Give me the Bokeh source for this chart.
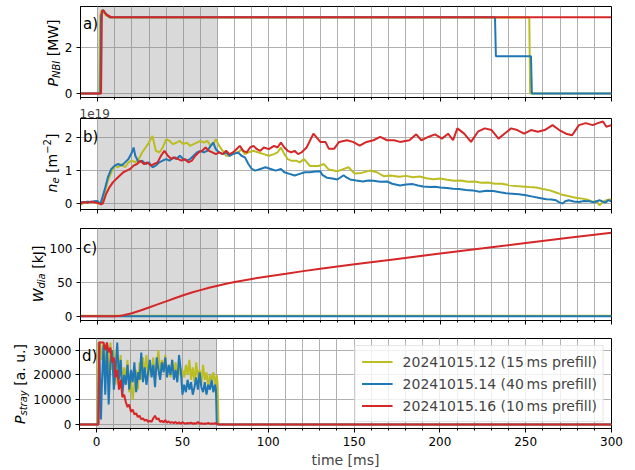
from bokeh.plotting import figure
from bokeh.models import Range1d, FixedTicker, Label, BoxAnnotation, Title, CustomLabelingPolicy, Div
from bokeh.layouts import column, row
from bokeh.embed import file_html
from bokeh.resources import INLINE

# ---------------- data ----------------
C_OLIVE = "#bcbd22"
C_BLUE = "#1f77b4"
C_RED = "#d62728"

series_names = ["20241015.12 (15\u2009ms prefill)",
                "20241015.14 (40\u2009ms prefill)",
                "20241015.16 (10\u2009ms prefill)"]

# a) NBI power [MW]
pnbi_t_olive = [-10, 1.0, 1.5, 2.5, 3.5, 5, 7, 252, 252.5, 300]
pnbi_v_olive = [0, 0, 3.4, 3.65, 3.55, 3.4, 3.32, 3.32, 0, 0]
pnbi_t_blue = [-10, 1.5, 2.0, 3.0, 4.5, 7, 232, 232.5, 253, 253.5, 300]
pnbi_v_blue = [0, 0, 3.4, 3.65, 3.5, 3.33, 3.33, 1.62, 1.62, 0, 0]
pnbi_t_red = [-10, 2.0, 2.5, 3.5, 5, 8, 300]
pnbi_v_red = [0, 0, 3.6, 3.62, 3.45, 3.33, 3.33]

# b) line density [1e19 m^-2]
ne_t_olive = [-10, -8, -6, -4, -2, 0, 2, 4, 6, 8, 10, 12, 14, 16, 18, 20, 22, 24, 26, 28,
              30, 32, 34, 36, 38, 40, 42, 44, 46, 48, 50, 52, 54, 56, 58, 60, 62, 64, 66, 68,
              69, 71, 73, 75, 77, 79, 82, 84, 86, 88, 91, 94, 97, 100, 103, 105, 107, 109, 111, 113,
              116, 118, 120.5, 124, 129, 132, 135, 140, 142.6, 146.5, 150, 154, 159, 163, 167, 171,
              176, 180, 184, 188, 192, 196, 200, 204, 208, 212, 216, 220, 224, 228, 232, 236, 240,
              244, 248, 252, 256, 260, 264, 268, 271, 274, 277, 280, 283, 286, 289, 291, 293, 295,
              297, 300]
ne_v_olive = [-0.04, 0.02, 0.05, 0.03, 0.06, 0.0, 0.02, 0.3, 0.7, 0.95, 1.15, 1.1, 1.2, 1.1, 1.25,
              1.3, 1.25, 1.35, 1.55, 1.7, 1.85, 2.05, 1.6, 1.55, 1.7, 1.95, 1.9, 1.8, 1.85, 1.9,
              1.8, 1.85, 1.75, 1.8, 1.85, 1.9, 1.85, 1.9, 1.75, 1.85, 1.95, 1.75, 1.6, 1.45, 1.45,
              1.55, 1.55, 1.65, 1.5, 1.55, 1.6, 1.55, 1.5, 1.45, 1.5, 1.55, 1.7, 1.5, 1.35, 1.3,
              1.3, 1.25, 1.35, 1.14, 1.14, 1.2, 1.03, 0.98, 1.03, 1.1, 0.91, 0.93, 1.0, 0.95, 0.83,
              0.85, 0.81, 0.84, 0.8, 0.82, 0.77, 0.74, 0.76, 0.72, 0.69, 0.7, 0.66, 0.67, 0.63, 0.64,
              0.6, 0.6, 0.56, 0.53, 0.52, 0.5, 0.49, 0.44, 0.4, 0.33, 0.27, 0.24, 0.2, 0.17, 0.15,
              0.12, 0.05, 0.08, -0.05, 0.05, 0.1, 0.13]
ne_t_blue = [-10, -8, -6, -4, -2, 0, 1, 2, 4, 6, 8, 10, 12, 14, 16, 18, 20, 21, 22, 24, 26, 28,
             30, 32, 34, 36, 38, 40, 42, 44, 46, 48, 50, 52, 54, 56, 58, 60, 62, 64, 66, 67.5, 69,
             71, 73, 75, 77, 79, 82, 84, 86, 88, 90, 92, 95, 98, 101, 104, 107, 109, 112, 115, 118,
             121, 124, 127, 130, 131, 134, 137, 140, 143.6, 145, 147.4, 151, 155, 158, 161, 165,
             169, 172, 176.5, 180, 184, 187, 190, 194, 197, 200, 204, 207.5, 211, 215, 219, 223,
             227, 231, 235, 238.5, 242, 246, 250, 254, 258, 262, 265, 267.6, 269, 271.5, 273, 275,
             278, 281, 284, 287, 290, 293, 295, 296.6, 298, 300]
ne_v_blue = [0.05, 0.03, 0.06, 0.04, 0.07, 0.08, 0.0, 0.05, 0.4, 0.8, 1.05, 1.15, 1.2, 1.15, 1.25,
             1.35, 1.55, 1.7, 1.45, 1.25, 1.3, 1.2, 1.25, 1.1, 1.15, 1.25, 1.3, 1.35, 1.3, 1.4,
             1.35, 1.45, 1.35, 1.3, 1.35, 1.45, 1.55, 1.6, 1.55, 1.6, 1.75, 1.85, 1.65, 1.55, 1.5,
             1.55, 1.45, 1.5, 1.55, 1.45, 1.4, 1.2, 1.05, 1.0, 1.05, 1.1, 1.05, 1.0, 1.05, 0.95,
             0.9, 0.85, 0.9, 0.95, 0.95, 0.97, 0.98, 0.88, 0.78, 0.76, 0.73, 0.86, 0.8, 0.73, 0.7,
             0.67, 0.7, 0.69, 0.66, 0.67, 0.6, 0.55, 0.58, 0.59, 0.55, 0.52, 0.5, 0.51, 0.49, 0.47,
             0.45, 0.44, 0.41, 0.4, 0.36, 0.39, 0.38, 0.34, 0.31, 0.3, 0.28, 0.25, 0.21, 0.17, 0.13,
             0.12, 0.1, 0.05, 0.0, 0.07, 0.1, 0.06, 0.05, 0.08, 0.07, 0.04, 0.1, 0.06, 0.03, 0.1,
             0.07]
ne_t_red = [-10, -8, -6, -4, -2, 0, 2, 3, 5, 7, 9, 11, 13, 15, 17, 19, 21, 23, 25, 27, 29, 31,
            33, 35, 37, 39, 41, 43, 45, 47, 49, 51, 53, 55, 57, 59, 61, 63, 65, 67, 69, 71, 73,
            75, 77, 79, 81, 83, 85, 87, 89, 91, 93, 95, 97, 100, 103, 105, 107, 109, 111, 113, 115,
            117, 119, 122, 126, 130, 133, 135, 138, 141, 145.5, 149, 153, 157, 161, 165, 169, 173,
            176.5, 182, 186, 189, 193, 197, 201, 204.6, 207.5, 210, 214, 218, 222, 226, 230, 234,
            237.5, 241.4, 245, 249, 253, 257, 261, 265.6, 269.5, 273.4, 277, 281, 285, 289, 292,
            295, 297, 300]
ne_v_red = [0.0, 0.05, 0.02, 0.06, 0.04, 0.02, -0.02, 0.0, 0.3, 0.5, 0.65, 0.75, 0.85, 0.95,
            1.0, 1.05, 1.15, 1.2, 1.3, 1.2, 1.25, 1.15, 1.2, 1.25, 1.45, 1.6, 1.45, 1.35, 1.4,
            1.35, 1.3, 1.35, 1.25, 1.3, 1.45, 1.55, 1.6, 1.7, 1.6, 1.55, 1.5, 1.55, 1.5, 1.6, 1.5,
            1.55, 1.65, 1.75, 1.6, 1.55, 1.7, 1.75, 1.65, 1.6, 1.7, 1.65, 1.75, 1.7, 1.85, 1.7,
            1.6, 1.55, 1.6, 1.5, 1.55, 1.7, 2.12, 1.87, 1.87, 1.66, 1.66, 1.87, 1.92, 1.87, 1.76,
            1.87, 1.92, 2.02, 1.92, 1.92, 1.87, 1.92, 2.1, 1.92, 2.02, 2.1, 1.97, 2.12, 1.92, 2.28,
            2.12, 1.87, 2.18, 2.28, 2.23, 1.97, 2.12, 2.28, 2.23, 2.12, 2.23, 2.18, 2.23, 2.38,
            2.23, 2.12, 2.07, 2.38, 2.44, 2.38, 2.44, 2.49, 2.33, 2.38]

# c) diamagnetic energy [kJ]
wdia_t_olive = [-10, 300]
wdia_v_olive = [0.8, 0.8]
wdia_t_blue = [-10, 300]
wdia_v_blue = [0.0, 0.0]
wdia_t_red = [-10, 10, 12, 15, 20, 25, 30, 35, 40, 45, 50, 55, 60, 65, 70, 75, 80, 90, 100,
              110, 120, 130, 150, 175, 200, 225, 250, 275, 300]
wdia_v_red = [0, 0, 0.3, 1.5, 4.5, 8.5, 13, 17.5, 22, 26.5, 31, 35, 38.5, 42, 45, 48, 50.5,
              55, 59, 62.7, 66.5, 70, 76.5, 84.5, 92.5, 100, 108, 115.5, 123]

# d) stray radiation [a. u.]
ps_t_olive = [-10, 0.5] + list(range(1, 71)) + [70.5, 71, 300]
ps_v_olive = [0, 0,
              33000, 33000, 26000, 33000, 20000, 31000, 17000, 33000, 22000, 30000,
              16000, 26000, 20000, 28000, 15000, 23000, 19000, 26000, 13000, 18000,
              10000, 16000, 22000, 14000, 25000, 18000, 27000, 20000, 28000, 19000,
              24000, 21000, 27000, 18000, 24000, 30000, 20000, 26000, 22000, 28000,
              20000, 24000, 19000, 26000, 21000, 25000, 18000, 23000, 20000, 22000,
              19000, 24000, 20000, 26000, 18000, 23000, 17000, 25000, 19000, 22000,
              16000, 24000, 18000, 21000, 15000, 20000, 18000, 21000, 16000, 20000,
              16000, 0, 0]
ps_t_blue = [-10, 1.0, 1.5, 2.5] + list(range(3, 70)) + [69.5, 70, 300]
ps_v_blue = [0, 0, 33000, 2000,
             15000, 32000, 12000, 33000, 8000, 25000, 30000, 14000, 22000, 33000,
             18000, 26000, 12000, 20000, 16000, 24000, 14000, 22000, 17000, 25000,
             13000, 21000, 18000, 29000, 17000, 23000, 16000, 21000, 26000, 19000,
             24000, 15000, 27000, 22000, 18000, 25000, 21000, 27000, 19000, 24000,
             20000, 26000, 18000, 22000, 17000, 28000, 22000, 12000, 16000, 13000,
             18000, 14000, 17000, 12000, 15000, 19000, 14000, 21000, 15000, 13000,
             17000, 12000, 16000, 14000, 18000, 13000, 16000,
             14000, 0, 0]
ps_t_red = [-10, 1.0, 1.5] + list(range(2, 71)) + [71, 300]
ps_v_red = [0, 0, 33000,
            33000, 33000, 33000, 30000, 33000, 29000, 31000, 25000, 27000, 19000,
            22000, 14000, 18000, 11000, 12000, 9000, 7000, 8000, 5000, 6000,
            4000, 4500, 3000, 3500, 2000, 2500, 1500, 2000, 1000, 1500,
            1000, 2500, 3500, 2000, 2500, 1000, 1500, 800, 1800, 700,
            1200, 600, 900, 500, 1000, 400, 800, 300, 900, 500,
            300, 600, 400, 700, 300, 500, 400, 1000, 300, 500,
            200, 400, 300, 600, 200, 400, 300, 500, 300,
            0, 0]

x_major = [0, 50, 100, 150, 200, 250, 300]
x_minor = list(range(-10, 301, 10))
yticks_a = [0, 2]
yticks_b = [0, 1, 2]
yticks_c = [0, 50, 100]
yticks_d = [0, 10000, 20000, 30000]

# ---------------- layout helpers ----------------
FONT = "DejaVu Sans"
FRAME_LEFT, RIGHT, TOTAL_W = 79, 22, 635
EXTRA = 2  # observed extra horizontal offset of the row layout

xr = Range1d(-10, 300)
hide_all = CustomLabelingPolicy(code="for (const i of Array.from(indices)) { indices.unset(i) }")


def make_fig(lab_w, height, top, bottom, yr, yticks, show_x):
    p = figure(width=TOTAL_W - lab_w - EXTRA, height=height, x_range=xr, y_range=Range1d(*yr),
               output_backend="svg", toolbar_location=None,
               min_border_left=FRAME_LEFT - lab_w - EXTRA, min_border_right=RIGHT,
               min_border_top=top, min_border_bottom=bottom)
    p.outline_line_color = "black"
    p.outline_line_width = 1
    p.outline_line_alpha = 1
    p.background_fill_color = "white"
    p.border_fill_color = "white"
    p.xaxis.ticker = FixedTicker(ticks=x_major, minor_ticks=x_minor)
    p.yaxis.ticker = FixedTicker(ticks=yticks)
    for ax in (p.xaxis, p.yaxis):
        ax.axis_line_color = "black"
        ax.major_tick_line_color = "black"
        ax.major_tick_out = 4
        ax.major_tick_in = 0
        ax.minor_tick_out = 2
        ax.minor_tick_in = 0
        ax.major_label_text_font = FONT
        ax.major_label_text_font_size = "12px"
        ax.major_label_text_color = "black"
        ax.major_label_standoff = 4
    p.yaxis.minor_tick_line_color = None
    p.yaxis.formatter.use_scientific = False
    if not show_x:
        p.xaxis.major_label_policy = hide_all
        p.xaxis.major_label_text_font_size = "1px"
        p.xaxis.major_label_standoff = 0
    p.xgrid.ticker = p.xaxis.ticker
    p.xgrid.grid_line_color = "#b0b0b0"
    p.xgrid.minor_grid_line_color = "#b0b0b0"
    p.ygrid.grid_line_color = "#b0b0b0"
    p.add_layout(BoxAnnotation(left=0, right=70, fill_color="gray", fill_alpha=0.3,
                               line_color=None, level="underlay"))
    return p


SUB = "font-size:10px;font-style:italic;position:relative;top:2px;"
SUP = "font-size:10px;position:relative;top:-6px;"


def label_div(lab_w, height, top, frame_h, html, xc):
    yc = top + frame_h / 2
    inner = (f'<div style="position:relative;width:{lab_w}px;height:{height}px;overflow:visible;'
             f'background:white;">'
             f'<div style="position:absolute;left:{xc}px;top:{yc}px;'
             f'transform:translate(-50%,-50%) rotate(-90deg);white-space:nowrap;'
             f"font-family:'{FONT}';font-size:14px;line-height:1;color:black;\">"
             f'{html}</div></div>')
    return Div(text=inner, width=lab_w, height=height, margin=0)


def add_panel_letter(p, letter, frame_h):
    p.add_layout(Label(x=2.5, y=frame_h - 19, x_units="screen", y_units="screen",
                       text=letter, text_font=FONT, text_font_size="15px",
                       text_baseline="middle", text_align="left", text_color="black"))


# rows: (label width, fig height, top border, frame height, bottom border)
ROWS = [(61, 105, 6, 93, 6), (61, 112, 12, 92, 8), (46, 111, 11, 92, 8), (30, 142, 10, 92, 40)]

pa = make_fig(ROWS[0][0], ROWS[0][1], ROWS[0][2], ROWS[0][4], (-0.18, 3.8), yticks_a, False)
pb = make_fig(ROWS[1][0], ROWS[1][1], ROWS[1][2], ROWS[1][4], (-0.18, 2.58), yticks_b, False)
pc = make_fig(ROWS[2][0], ROWS[2][1], ROWS[2][2], ROWS[2][4], (-6.15, 129.2), yticks_c, False)
pd = make_fig(ROWS[3][0], ROWS[3][1], ROWS[3][2], ROWS[3][4], (-1650, 34650), yticks_d, True)

LW = 2
pa.line(pnbi_t_olive, pnbi_v_olive, color=C_OLIVE, line_width=LW)
pa.line(pnbi_t_blue, pnbi_v_blue, color=C_BLUE, line_width=LW)
pa.line(pnbi_t_red, pnbi_v_red, color=C_RED, line_width=LW)

pb.line(ne_t_olive, ne_v_olive, color=C_OLIVE, line_width=LW)
pb.line(ne_t_blue, ne_v_blue, color=C_BLUE, line_width=LW)
pb.line(ne_t_red, ne_v_red, color=C_RED, line_width=LW)

pc.line(wdia_t_olive, wdia_v_olive, color=C_OLIVE, line_width=LW)
pc.line(wdia_t_blue, wdia_v_blue, color=C_BLUE, line_width=LW)
pc.line(wdia_t_red, wdia_v_red, color=C_RED, line_width=LW)

pd.line(ps_t_olive, ps_v_olive, color=C_OLIVE, line_width=LW, legend_label=series_names[0])
pd.line(ps_t_blue, ps_v_blue, color=C_BLUE, line_width=LW, legend_label=series_names[1])
pd.line(ps_t_red, ps_v_red, color=C_RED, line_width=LW, legend_label=series_names[2])

pd.xaxis.axis_label = "time [ms]"
pd.xaxis.axis_label_text_font = FONT
pd.xaxis.axis_label_text_font_size = "14px"
pd.xaxis.axis_label_text_font_style = "normal"
pd.xaxis.axis_label_standoff = 3

lg = pd.legend[0]
lg.location = "top_right"
lg.margin = 7
lg.padding = 6
lg.spacing = 3
lg.glyph_width = 31
lg.glyph_height = 19
lg.label_height = 19
lg.label_standoff = 10
lg.label_text_font = FONT
lg.label_text_font_size = "14px"
lg.border_line_color = "#cccccc"
lg.background_fill_alpha = 0.8

pb.add_layout(Title(text="1e19", align="left", text_font=FONT, text_font_size="12px",
                    text_font_style="normal", standoff=2, offset=-1), "above")

la = label_div(ROWS[0][0], ROWS[0][1], ROWS[0][2], ROWS[0][3],
               f'<i>P</i><span style="{SUB}">NBI</span> [MW]', 53)
lb = label_div(ROWS[1][0], ROWS[1][1], ROWS[1][2], ROWS[1][3],
               f'<i>n</i><span style="{SUB}">e</span> [m<span style="{SUP}">\u22122</span>]', 52)
lc = label_div(ROWS[2][0], ROWS[2][1], ROWS[2][2], ROWS[2][3],
               f'<i>W</i><span style="{SUB}">dia</span> [kJ]', 38)
ld = label_div(ROWS[3][0], ROWS[3][1], ROWS[3][2], ROWS[3][3],
               f'<i>P</i><span style="{SUB}">stray</span> [a. u.]', 20)

for p, letter, r in zip([pa, pb, pc, pd], ["a)", "b)", "c)", "d)"], ROWS):
    add_panel_letter(p, letter, r[3])

layout = column(row(la, pa, spacing=0), row(lb, pb, spacing=0),
                row(lc, pc, spacing=0), row(ld, pd, spacing=0), spacing=0)
open("out.html", "w").write(file_html(layout, INLINE))
